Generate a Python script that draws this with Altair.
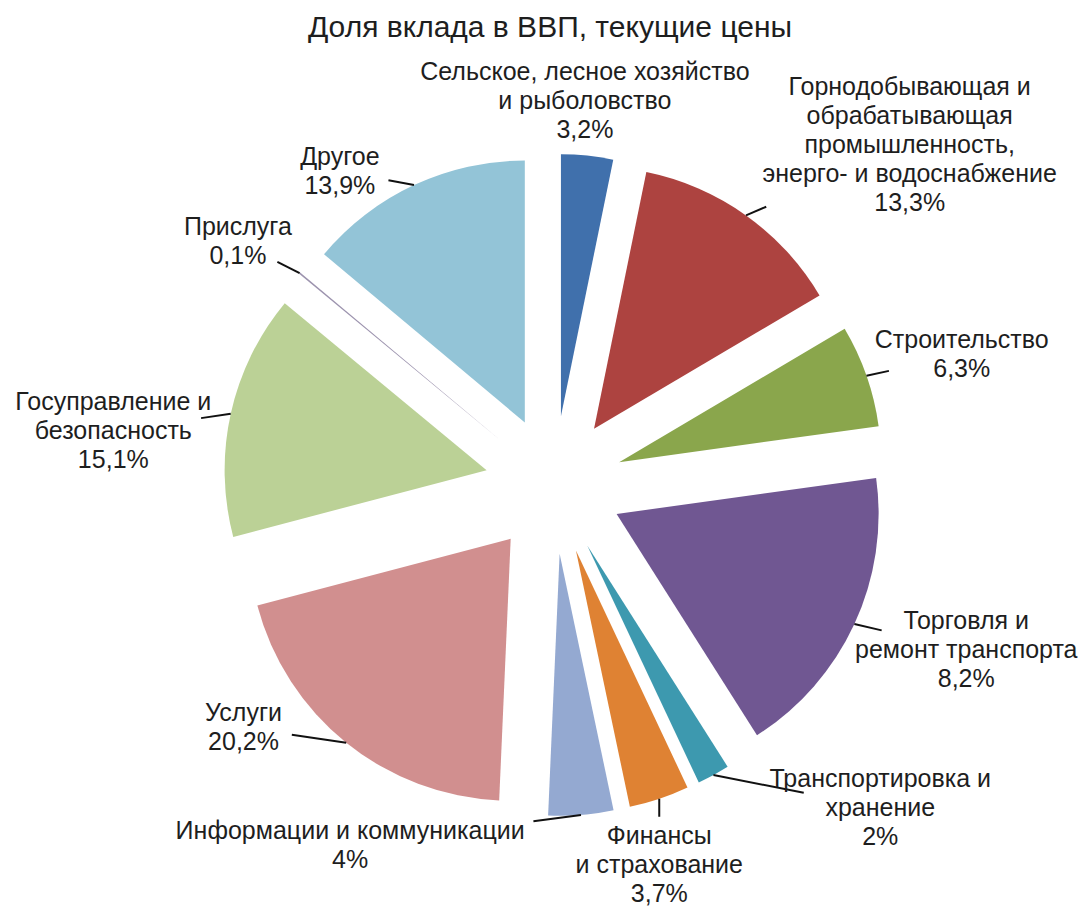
import math
import altair as alt
import pandas as pd

# ---------------- data ----------------
sectors = [
    "Сельское, лесное хозяйство и рыболовство",
    "Горнодобывающая и обрабатывающая промышленность, энерго- и водоснабжение",
    "Строительство",
    "Торговля и ремонт транспорта",
    "Транспортировка и хранение",
    "Финансы и страхование",
    "Информации и коммуникации",
    "Услуги",
    "Госуправление и безопасность",
    "Прислуга",
    "Другое",
]
# slice sizes as drawn (the trade slice is drawn as 18.2 although labelled 8,2%)
values = [3.2, 13.3, 6.3, 18.2, 2.0, 3.7, 4.0, 20.2, 15.1, 0.1, 13.9]
label_texts = [
    "Сельское, лесное хозяйство\nи рыболовство\n3,2%",
    "Горнодобывающая и\nобрабатывающая\nпромышленность,\nэнерго- и водоснабжение\n13,3%",
    "Строительство\n6,3%",
    "Торговля и\nремонт транспорта\n8,2%",
    "Транспортировка и\nхранение\n2%",
    "Финансы\nи страхование\n3,7%",
    "Информации и коммуникации\n4%",
    "Услуги\n20,2%",
    "Госуправление и\nбезопасность\n15,1%",
    "Прислуга\n0,1%",
    "Другое\n13,9%",
]
title_text = "Доля вклада в ВВП, текущие цены"

# ---------------- styles / layout ----------------
colors = ["#4070AC", "#AD4340", "#8AA64C", "#705792", "#3D99AF", "#DF8233",
          "#94A9D1", "#D18F8F", "#BBD196", "#9C93AE", "#93C4D7"]
RADIUS = 262
EXPLODE = 69
label_angle = [4.6, 46.3, 72.3, 111.8, 134.7, 164.5, 209.5, 232.0, 277.0, 307.6, 325.7]
label_dist = [385, 492, 428, 444, 459, 394, 414, 394, 444, 399, 380]
leader_len = [0, 22, 23, 28, 92, 18, 48, 55, 30, 25, 26]
LH = 29
LABEL_SIZE = 25

W, H = 1070, 899
CX, CY = 546, 477
FONT = "Liberation Sans"
TXT = "#1e1e1e"

# ---------------- table built from the lists ----------------
total = sum(values)
rows = []
cum = 0.0
for i, (s, v) in enumerate(zip(sectors, values)):
    t0 = 2 * math.pi * cum / total
    cum += v
    t1 = 2 * math.pi * cum / total
    mid = (t0 + t1) / 2
    ax, ay = EXPLODE * math.sin(mid), -EXPLODE * math.cos(mid)
    sx, sy = ax + RADIUS * math.sin(mid), ay - RADIUS * math.cos(mid)
    la = math.radians(label_angle[i])
    lx, ly = label_dist[i] * math.sin(la), -label_dist[i] * math.cos(la)
    dx, dy = lx - sx, ly - sy
    n = math.hypot(dx, dy)
    ex, ey = sx + leader_len[i] * dx / n, sy + leader_len[i] * dy / n
    nlines = label_texts[i].count("\n") + 1
    rows.append(dict(sector=s, value=v, t0=t0, t1=t1, ax=ax, ay=ay,
                     sx=sx, sy=sy, ex=ex, ey=ey, lx=lx,
                     ly=ly - (nlines - 1) * LH / 2,
                     label=label_texts[i], lead=leader_len[i]))
df = pd.DataFrame(rows)

xs = alt.Scale(domain=[-CX, W - CX], range=[0, W], nice=False, zero=False)
ys = alt.Scale(domain=[-CY, H - CY], range=[0, H], nice=False, zero=False)

base = alt.Chart(df)

arcs = base.mark_arc(radius=RADIUS, stroke=None).encode(
    x=alt.X("ax:Q", scale=xs, axis=None),
    y=alt.Y("ay:Q", scale=ys, axis=None),
    theta=alt.Theta("t0:Q", scale=None),
    theta2="t1:Q",
    color=alt.Color("sector:N", scale=alt.Scale(domain=sectors, range=colors), legend=None),
)

leaders = base.transform_filter("datum.lead > 0").mark_rule(color="#111111", strokeWidth=2).encode(
    x=alt.X("sx:Q", scale=xs, axis=None),
    y=alt.Y("sy:Q", scale=ys, axis=None),
    x2="ex:Q",
    y2="ey:Q",
)

labels = base.mark_text(
    lineBreak="\n", font=FONT, fontSize=LABEL_SIZE, lineHeight=LH,
    align="center", baseline="middle", color=TXT,
).encode(
    x=alt.X("lx:Q", scale=xs, axis=None),
    y=alt.Y("ly:Q", scale=ys, axis=None),
    text="label:N",
)

title = alt.Chart(pd.DataFrame({"t": [title_text], "x": [-4], "y": [-448]})).mark_text(
    font=FONT, fontSize=30, align="center", baseline="alphabetic", color=TXT,
).encode(
    x=alt.X("x:Q", scale=xs, axis=None),
    y=alt.Y("y:Q", scale=ys, axis=None),
    text="t:N",
)

chart = alt.layer(arcs, leaders, labels, title).properties(
    width=W, height=H,
    autosize=alt.AutoSizeParams(type="none"),
    padding=0,
).configure_view(stroke=None)

chart.save("out.html", embed_options={"renderer": "svg", "actions": False})
